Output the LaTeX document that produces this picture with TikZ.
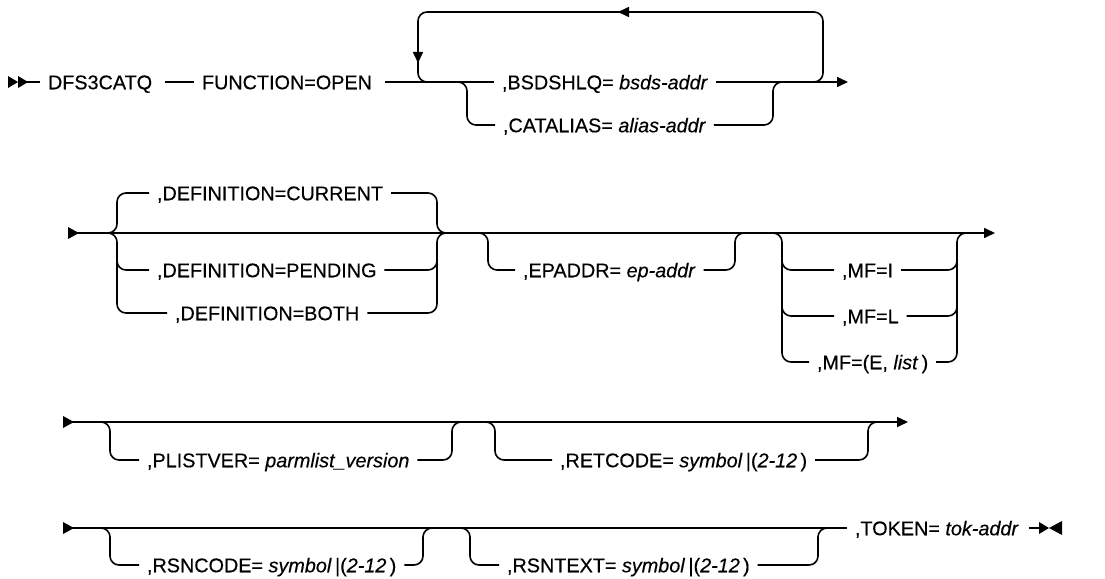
\documentclass[tikz,border=0pt]{standalone}
\usepackage{fontspec}
\setmainfont{Liberation Sans}[FakeBold=0.35]
\usetikzlibrary{arrows.meta}

\begin{document}
\begin{tikzpicture}[x=1pt, y=-1pt,
    rail/.style={line width=1.6pt, rounded corners=9pt},
    tip/.style={-{Triangle[length=11pt, width=10pt]}},
    kw/.style={inner sep=0pt, outer sep=8pt, anchor=west, text height=14.5pt, text depth=0pt,
      font=\fontsize{19.8}{23}\selectfont}]
  \useasboundingbox (0,0) rectangle (1105,578);

  % row 1
  \node[kw] (dfs) at (40,82) {DFS3CATQ};
  \node[kw] (func) at (194,82) {FUNCTION=OPEN};
  \node[kw] (bsds) at (494,82) {,BSDSHLQ= \textit{bsds-addr}};
  \node[kw] (catal) at (495,125) {,CATALIAS= \textit{alias-addr}};
  \fill (8,76) -- (18,82) -- (8,88) -- cycle;
  \fill (18,76) -- (28,82) -- (18,88) -- cycle;
  \draw[rail] (18,82) -- (dfs.west);
  \draw[rail] ([xshift=5pt]dfs.east) -- (func.west);
  \draw[rail] ([xshift=5pt]func.east) -- (bsds.west);
  \draw[rail, tip] (bsds.east) -- (848,82);
  \draw[rail, tip] (795,82) -- (823,82) -- (823,12) -- (618,12);
  \draw[rail, tip] (625,12) -- (418,12) -- (418,63);
  \draw[rail] (418,56) -- (418,82) -- (445,82);
  \draw[rail] (445,82) -- (467,82) -- (467,125) -- (catal.west);
  \draw[rail] (catal.east) -- (773,125) -- (773,82) -- (795,82);

  % row 2
  \node[kw] (defcur) at (149,193) {,DEFINITION=CURRENT};
  \node[kw] (defpen) at (149,270) {,DEFINITION=PENDING};
  \node[kw] (defboth) at (167,313) {,DEFINITION=BOTH};
  \node[kw] (epaddr) at (515,270) {,EPADDR= \textit{ep-addr}};
  \node[kw] (mfi) at (834,270) {,MF=I};
  \node[kw] (mfl) at (834,316) {,MF=L};
  \node[kw] (mfe) at (809,362) {,MF=(E, \textit{list}\,)};
  \fill (68,227) -- (79,233) -- (68,239) -- cycle;
  \draw[rail, tip] (70,233) -- (995,233);
  \draw[rail] (100,233) -- (117,233) -- (117,193) -- (defcur.west);
  \draw[rail] (100,233) -- (117,233) -- (117,313) -- (defboth.west);
  \draw[rail] (117,255) -- (117,270) -- (defpen.west);
  \draw[rail] (defcur.east) -- (437,193) -- (437,233) -- (455,233);
  \draw[rail] (defboth.east) -- (437,313) -- (437,233) -- (455,233);
  \draw[rail] (defpen.east) -- (437,270) -- (437,255);
  \draw[rail] (470,233) -- (488,233) -- (488,270) -- (epaddr.west);
  \draw[rail] (epaddr.east) -- (735,270) -- (735,233) -- (752,233);
  \draw[rail] (765,233) -- (782,233) -- (782,362) -- (mfe.west);
  \draw[rail] (782,255) -- (782,270) -- (mfi.west);
  \draw[rail] (782,300) -- (782,316) -- (mfl.west);
  \draw[rail] (mfe.east) -- (957,362) -- (957,233) -- (975,233);
  \draw[rail] (mfi.east) -- (957,270) -- (957,255);
  \draw[rail] (mfl.east) -- (957,316) -- (957,300);

  % row 3
  \node[kw] (plist) at (139,460) {,PLISTVER= \textit{parmlist\_version}};
  \node[kw] (retcode) at (552,460) {,RETCODE= \textit{symbol}\,|(\textit{2-12}\,)};
  \fill (63,416) -- (74,422) -- (63,428) -- cycle;
  \draw[rail, tip] (65,422) -- (908,422);
  \draw[rail] (93,422) -- (110,422) -- (110,460) -- (plist.west);
  \draw[rail] (plist.east) -- (452,460) -- (452,422) -- (470,422);
  \draw[rail] (478,422) -- (495,422) -- (495,460) -- (retcode.west);
  \draw[rail] (retcode.east) -- (868,460) -- (868,422) -- (885,422);

  % row 4
  \node[kw] (rsncode) at (139,565) {,RSNCODE= \textit{symbol}\,|(\textit{2-12}\,)};
  \node[kw] (rsntext) at (499,565) {,RSNTEXT= \textit{symbol}\,|(\textit{2-12}\,)};
  \node[kw] (token) at (847,528) {,TOKEN= \textit{tok-addr}};
  \fill (63,522) -- (74,528) -- (63,534) -- cycle;
  \draw[rail] (65,528) -- (token.west);
  \draw[rail] (93,528) -- (110,528) -- (110,565) -- (rsncode.west);
  \draw[rail] (rsncode.east) -- (423,565) -- (423,528) -- (440,528);
  \draw[rail] (453,528) -- (470,528) -- (470,565) -- (rsntext.west);
  \draw[rail] (rsntext.east) -- (818,565) -- (818,528) -- (835,528);
  \draw[rail] ([xshift=2pt]token.east) -- (1042,528);
  \fill (1039,522) -- (1049,528) -- (1039,534) -- cycle;
  \fill (1062,521) -- (1049,528) -- (1062,535) -- cycle;
\end{tikzpicture}
\end{document}
